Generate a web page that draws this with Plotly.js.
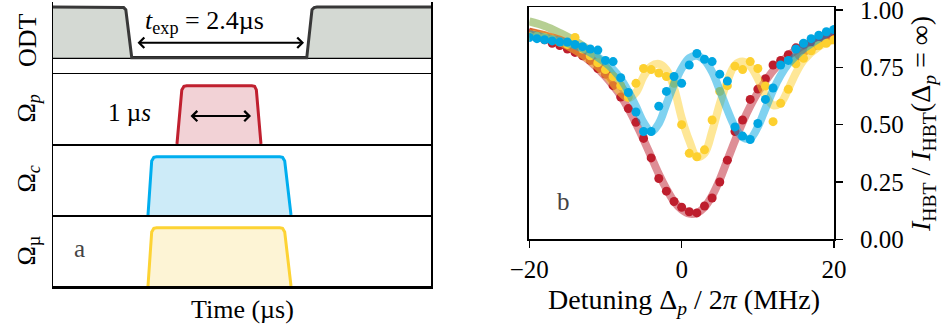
<!DOCTYPE html>
<html>
<head>
<meta charset="utf-8">
<script src="https://cdn.plot.ly/plotly-3.0.1.min.js"></script>
<style>
  html, body { margin: 0; padding: 0; background: #ffffff; }
  #chart { width: 941px; height: 331px; }
</style>
</head>
<body>
<div id="chart"></div>
<script>
// ---------- (a) pulse sequence, time in µs ----------
const odtTime   = [0, 0.97, 1.01, 1.04, 1.125, 3.625, 3.70, 3.73, 3.77, 5.4];
const odtLevel  = [1, 1, 0.99, 0.95, 0, 0, 0.95, 0.99, 1, 1];

const probeTime  = [1.771, 1.84, 1.87, 1.91, 2.84, 2.88, 2.905, 2.971];
const probeLevel = [0, 0.93, 0.99, 1, 1, 0.99, 0.93, 0];

const couplingTime  = [1.357, 1.41, 1.44, 1.48, 3.24, 3.28, 3.31, 3.40];
const couplingLevel = [0, 0.93, 0.99, 1, 1, 0.99, 0.93, 0];

const microwaveTime  = [1.357, 1.41, 1.44, 1.48, 3.24, 3.28, 3.31, 3.40];
const microwaveLevel = [0, 0.93, 0.99, 1, 1, 0.99, 0.93, 0];

const panelLabels = ['ODT', 'Ω<sub><i>p</i></sub>', 'Ω<sub><i>c</i></sub>', 'Ω<sub>µ</sub>'];

// ---------- (b) normalised HBT signal vs probe detuning (MHz) ----------
const detuning = [-20,-19,-18,-17,-16,-15,-14,-13,-12,-11,-10,-9,-8,-7,-6,-5,-4,-3,-2,-1,0,
                  1,2,3,4,5,6,7,8,9,10,11,12,13,14,15,16,17,18,19,20];

const redPoints = [0.90,0.89,0.87,0.855,0.845,0.83,0.815,0.80,0.78,0.745,0.72,0.67,0.62,0.57,0.51,0.44,0.355,0.265,0.21,0.165,0.14,
                   0.12,0.115,0.145,0.18,0.25,0.345,0.47,0.52,0.61,0.655,0.70,0.76,0.78,0.805,0.835,0.85,0.86,0.875,0.885,0.90];

const bluePoints = [0.88,0.875,0.87,0.865,0.86,0.86,0.85,0.84,0.83,0.825,0.78,0.775,0.705,0.64,0.555,0.47,0.47,0.58,0.645,0.71,0.68,
                    0.76,0.81,0.785,0.775,0.72,0.69,0.49,0.45,0.435,0.505,0.61,0.66,0.76,0.78,0.83,0.855,0.875,0.89,0.905,0.915];

const yellowPoints = [0.885,0.885,0.88,0.87,0.86,0.85,0.88,0.83,0.80,0.77,0.74,0.71,0.67,0.62,0.68,0.745,0.74,0.725,0.71,0.68,0.50,
                      0.375,0.36,0.39,0.52,0.645,0.67,0.755,0.74,0.775,0.745,0.668,0.513,0.593,0.654,0.765,0.789,0.822,0.845,0.855,0.87];

const fitDetuning = [-20,-18,-16,-14,-12,-10,-9,-8,-7,-6,-5,-4,-3,-2,-1,0,1,2,3,4,5,6,7,8,9,10,11,12,13,14,15,16,18,20];

const redFit = [0.905,0.885,0.86,0.825,0.775,0.71,0.67,0.625,0.57,0.505,0.435,0.36,0.285,0.22,0.165,0.13,0.112,0.115,0.14,0.19,
                0.26,0.345,0.43,0.51,0.58,0.64,0.69,0.735,0.77,0.80,0.825,0.845,0.875,0.90];

const blueFit = [0.895,0.88,0.865,0.845,0.815,0.77,0.74,0.70,0.645,0.58,0.51,0.47,0.505,0.59,0.675,0.745,0.79,0.80,0.78,0.73,
                 0.65,0.565,0.49,0.445,0.44,0.49,0.57,0.65,0.715,0.765,0.80,0.83,0.875,0.915];

const yellowFit = [0.90,0.885,0.86,0.825,0.78,0.72,0.68,0.64,0.615,0.64,0.71,0.755,0.765,0.74,0.66,0.53,0.43,0.36,0.375,0.47,
                   0.59,0.69,0.76,0.775,0.755,0.70,0.63,0.585,0.595,0.655,0.725,0.78,0.84,0.87];

// outer-wing fits of the two remaining settings
const greenFitDetuning  = [-20,-18,-16,-14,-12,-10,-8,-7,null,14,16,18,20];
const greenFit          = [0.95,0.93,0.90,0.865,0.82,0.755,0.67,0.62,null,0.77,0.82,0.86,0.895];
const orangeFitDetuning = [-20,-18,-16,-14,-12,-10,-9,null,15,16,18,20];
const orangeFit         = [0.905,0.89,0.87,0.835,0.79,0.73,0.69,null,0.79,0.815,0.85,0.875];

const xTicks = [-20, 0, 20];
const xTickText = ['\u221220', '0', '20'];
const yTicks = [0, 0.25, 0.5, 0.75, 1.0];

// ---------- styling ----------
const SERIF = 'Liberation Serif, DejaVu Serif, serif';
const W = 941, H = 331;
const px = v => v / W;            // horizontal pixel -> paper
const py = v => 1 - v / H;        // vertical pixel -> paper

const pulse = (t, lvl, xa, ya, line, fill) => ({
  x: t, y: lvl, xaxis: xa, yaxis: ya, type: 'scatter', mode: 'lines',
  line: { color: line, width: 3 }, fill: 'tozeroy', fillcolor: fill,
  hoverinfo: 'skip', showlegend: false
});

const fitLine = (x, y, color) => ({
  x: x, y: y, xaxis: 'x5', yaxis: 'y5', type: 'scatter', mode: 'lines',
  line: { color: color, width: 8, shape: 'spline', smoothing: 1 },
  connectgaps: false, showlegend: false
});
const dots = (x, y, color) => ({
  x: x, y: y, xaxis: 'x5', yaxis: 'y5', type: 'scatter', mode: 'markers',
  marker: { color: color, size: 9 }, showlegend: false
});

const traces = [
  pulse(odtTime, odtLevel, 'x', 'y', '#383838', '#d4d9d3'),
  pulse(probeTime, probeLevel, 'x2', 'y2', '#c0202f', '#f2d2d6'),
  pulse(couplingTime, couplingLevel, 'x3', 'y3', '#00aeef', '#cdebf8'),
  pulse(microwaveTime, microwaveLevel, 'x4', 'y4', '#fdd334', '#fdf4d5'),

  fitLine(greenFitDetuning, greenFit, 'rgba(110,160,40,0.5)'),
  fitLine(orangeFitDetuning, orangeFit, 'rgba(232,120,30,0.85)'),
  dots(detuning, redPoints, '#be1e2d'),
  fitLine(fitDetuning, redFit, 'rgba(190,30,45,0.5)'),
  dots(detuning, yellowPoints, '#fdd02f'),
  fitLine(fitDetuning, yellowFit, 'rgba(253,208,47,0.5)'),
  dots(detuning, bluePoints, '#00a6e2'),
  fitLine(fitDetuning, blueFit, 'rgba(0,166,226,0.5)')
];

const leftX = [px(53), px(431)];
const panelAxis = (domain, lw) => ({
  domain: domain, range: [0, 5.4], showticklabels: false, ticks: '',
  showgrid: false, zeroline: false, showline: true, linecolor: '#000', linewidth: lw
});
const panelY = (anchor, domain, range, zl) => ({
  anchor: anchor, domain: domain, range: range, showticklabels: false, ticks: '',
  showgrid: false, showline: true, mirror: true, linecolor: '#000', linewidth: 1.5,
  zeroline: zl, zerolinecolor: '#000', zerolinewidth: 3
});

const layout = {
  width: W, height: H,
  margin: { l: 0, r: 0, t: 0, b: 0, pad: 0 },
  paper_bgcolor: '#ffffff', plot_bgcolor: 'rgba(0,0,0,0)',
  showlegend: false,
  font: { family: SERIF, size: 25, color: '#000' },

  xaxis:  Object.assign(panelAxis(leftX, 1), { anchor: 'y' }),
  yaxis:  panelY('x', [py(73), py(2)], [-0.3, 1.1], true),
  xaxis2: Object.assign(panelAxis(leftX, 2), { anchor: 'y2' }),
  yaxis2: panelY('x2', [py(144), py(73)], [0, 1.22], false),
  xaxis3: Object.assign(panelAxis(leftX, 2), { anchor: 'y3' }),
  yaxis3: panelY('x3', [py(215), py(144)], [0, 1.22], false),
  xaxis4: Object.assign(panelAxis(leftX, 2.5), { anchor: 'y4' }),
  yaxis4: panelY('x4', [py(286), py(215)], [0, 1.22], false),

  xaxis5: {
    anchor: 'y5', domain: [px(529.3), px(834)], range: [-20, 20],
    tickmode: 'array', tickvals: xTicks, ticktext: xTickText,
    ticks: 'outside', ticklen: 7, tickwidth: 1.5, tickcolor: '#000',
    showline: true, mirror: true, linecolor: '#000', linewidth: 1.5,
    showgrid: false, zeroline: false,
    tickfont: { family: SERIF, size: 25 }
  },
  yaxis5: {
    anchor: 'x5', side: 'right', domain: [py(239.3), py(7)], range: [0, 1.013],
    tickmode: 'array', tickvals: yTicks, tickformat: '.2f',
    ticks: 'outside', ticklen: 7, tickwidth: 1.5, tickcolor: '#000',
    ticklabelstandoff: 12, ticklabeloverflow: 'allow',
    showline: true, mirror: true, linecolor: '#000', linewidth: 2,
    showgrid: false, zeroline: false,
    tickfont: { family: SERIF, size: 25 }
  },

  annotations: [
    // panel names
    ...panelLabels.map((t, i) => ({
      xref: 'paper', yref: 'paper', x: px(27), y: py([40, 108.5, 179.5, 250.5][i]),
      text: t, textangle: -90, showarrow: false, xanchor: 'center', yanchor: 'middle',
      font: { family: SERIF, size: 26 }
    })),
    // exposure window arrow and label
    { xref: 'x', yref: 'y', x: 3.586, y: 0.296, ax: 1.186, ay: 0.296, axref: 'x', ayref: 'y',
      text: '', showarrow: true, arrowside: 'end+start', arrowhead: 4, startarrowhead: 4,
      arrowwidth: 2, arrowsize: 1, startarrowsize: 1, arrowcolor: '#000' },
    { xref: 'paper', yref: 'paper', x: px(204), y: py(22), showarrow: false,
      text: '<i>t</i><sub>exp</sub> = 2.4µs', xanchor: 'center', yanchor: 'middle',
      font: { family: SERIF, size: 26 } },
    // probe pulse length
    { xref: 'x2', yref: 'y2', x: 2.829, y: 0.48, ax: 1.943, ay: 0.48, axref: 'x2', ayref: 'y2',
      text: '', showarrow: true, arrowside: 'end+start', arrowhead: 4, startarrowhead: 4,
      arrowwidth: 2, arrowsize: 1, startarrowsize: 1, arrowcolor: '#000' },
    { xref: 'paper', yref: 'paper', x: px(129), y: py(113), showarrow: false,
      text: '1 µ<i>s</i>', xanchor: 'center', yanchor: 'middle',
      font: { family: SERIF, size: 25 } },
    // panel letters
    { xref: 'paper', yref: 'paper', x: px(79.5), y: py(248), showarrow: false, text: 'a',
      xanchor: 'center', yanchor: 'middle', font: { family: SERIF, size: 25, color: '#444' } },
    { xref: 'paper', yref: 'paper', x: px(563), y: py(201), showarrow: false, text: 'b',
      xanchor: 'center', yanchor: 'middle', font: { family: SERIF, size: 25, color: '#444' } },
    // axis titles
    { xref: 'paper', yref: 'paper', x: px(242), y: py(309), showarrow: false, text: 'Time (µs)',
      xanchor: 'center', yanchor: 'middle', font: { family: SERIF, size: 26 } },
    { xref: 'paper', yref: 'paper', x: px(684), y: py(301), showarrow: false,
      text: 'Detuning Δ<sub><i>p</i></sub> / 2<i>π</i> (MHz)',
      xanchor: 'center', yanchor: 'middle', font: { family: SERIF, size: 28 } },
    { xref: 'paper', yref: 'paper', x: px(922), y: py(124), showarrow: false, textangle: -90,
      text: '<i>I</i><sub>HBT</sub> / <i>I</i><sub>HBT</sub>(Δ<sub><i>p</i></sub> = ∞)',
      xanchor: 'center', yanchor: 'middle', font: { family: SERIF, size: 28 } }
  ]
};

Plotly.newPlot('chart', traces, layout, { displayModeBar: false, staticPlot: true });
</script>
</body>
</html>
